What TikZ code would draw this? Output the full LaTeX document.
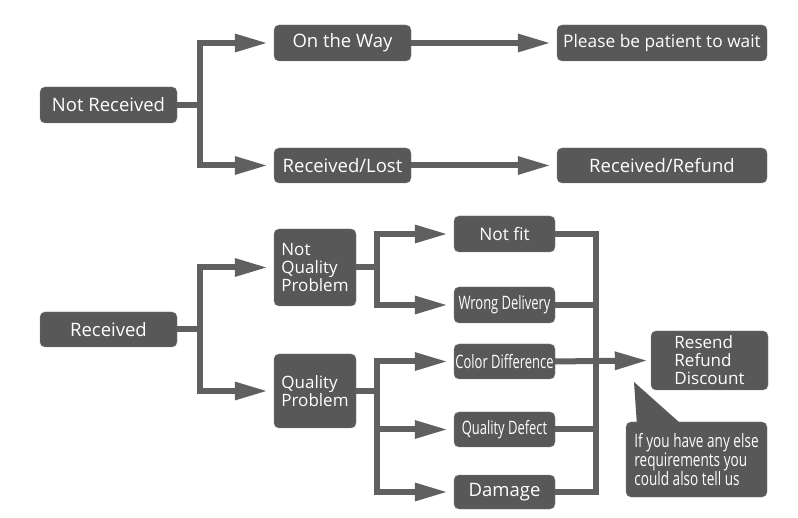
\documentclass[tikz,border=0pt]{standalone}
\usepackage{fontspec}
\setmainfont{Open Sans}
\newfontfamily\narrowfont[FakeStretch=0.7]{Open Sans}
\newfontfamily\notefont[FakeStretch=0.735]{Open Sans}
\usetikzlibrary{arrows.meta,positioning,calc}

\begin{document}
\begin{tikzpicture}[x=1pt, y=-1pt,
        box/.style={draw=boxedge, fill=boxgray, text=white, rounded corners=5pt, inner sep=0pt, font=\fontsize{18.5}{18}\selectfont},
        small/.style={font=\fontsize{17.3}{18}\selectfont},
        multi/.style={align=left, font=\fontsize{17}{18}\selectfont},
        slim/.style={font=\narrowfont\fontsize{18.5}{18}\selectfont},
        flow/.style={draw=linegray, line width=6pt, line join=miter},
        tip/.style={-{Triangle[length=33pt,width=17pt]}, shorten >=6pt}]
        \definecolor{boxgray}{RGB}{88,88,88}
        \definecolor{boxedge}{RGB}{125,125,125}
        \definecolor{linegray}{RGB}{96,96,96}

        \useasboundingbox (0,0) rectangle (798,518);

        % Not received branch
        \node[box, minimum width=137pt, minimum height=36pt] (nr) at (108.5,105) {Not Received};
        \node[box, minimum width=137pt, minimum height=36pt] (ow) at (342.5,43) {On the Way};
        \node[box, minimum width=137pt, minimum height=35pt] (rl) at (342.5,165.5) {Received/Lost};
        \node[box, small, minimum width=210pt, minimum height=36pt] (pw) at (662,43) {Please be patient to wait};
        \node[box, minimum width=210pt, minimum height=35pt] (rr) at (662,165.5) {Received/Refund};

        % Received branch
        \node[box, minimum width=137pt, minimum height=35pt] (rc) at (108.5,329.5) {Received};
        \node[box, multi, minimum width=82pt, minimum height=77pt] (nq) at (315,267.5) {Not\\Quality\\Problem};
        \node[box, multi, minimum width=82pt, minimum height=74pt] (qp) at (315,391) {Quality\\Problem};

        % Problem types
        \node[box, small, minimum width=101pt, minimum height=36pt] (nf) at (504.5,234) {Not fit};
        \node[box, slim, minimum width=101pt, minimum height=36pt] (wd) at (504.5,305) {Wrong Delivery};
        \node[box, slim, minimum width=101pt, minimum height=35pt] (cd) at (504.5,361.5) {Color Difference};
        \node[box, slim, minimum width=101pt, minimum height=35pt] (qd) at (504.5,429.5) {Quality Defect};
        \node[box, minimum width=101pt, minimum height=34pt] (dm) at (504.5,492) {Damage};

        % Solutions and note
        \node[box, multi, minimum width=117pt, minimum height=59pt] (res) at (709.5,360.5) {Resend\\Refund\\Discount};
        \node[box, align=left, font=\notefont\fontsize{18.5}{18}\selectfont, minimum width=141pt, minimum height=75pt] (note) at (696.5,459.5) {If you have any else\\requirements you\\could also tell us};
        \coordinate (ctip) at (634,382);
        \fill[boxgray] ($(note.north west)+(11,1)$) -- (ctip) -- ($(note.north west)+(54,1)$) -- cycle;

        % Junctions
        \coordinate (j1) at (199.5,105);
        \coordinate (j2) at (199.5,329.5);
        \coordinate (j3) at (377,267.5);
        \coordinate (j4) at (377,391);
        \coordinate (j5) at (596,361);

        % Arrows
        \draw[flow, tip] (nr.east) -- (j1) |- (ow.west);
        \draw[flow, tip] (j1) |- (rl.west);
        \draw[flow, tip] (ow.east) -- (pw.west);
        \draw[flow, tip] (rl.east) -- (rr.west);

        \draw[flow, tip] (rc.east) -- (j2) |- (nq.west);
        \draw[flow, tip] (j2) |- (qp.west);
        \draw[flow, tip] (nq.east) -- (j3) |- (nf.west);
        \draw[flow, tip] (j3) |- (wd.west);
        \draw[flow, tip] (qp.east) -- (j4) |- (cd.west);
        \draw[flow, tip] (j4) |- (qd.west);
        \draw[flow, tip] (j4) |- (dm.west);

        \draw[flow] (nf.east) -| (j5);
        \draw[flow] (wd.east) -| (j5);
        \draw[flow] (cd.east) -- (j5);
        \draw[flow] (qd.east) -| (j5);
        \draw[flow] (dm.east) -| (j5);
        \draw[flow, tip, shorten >=3pt] (j5) -- (res.west);
    \end{tikzpicture}
\end{document}
